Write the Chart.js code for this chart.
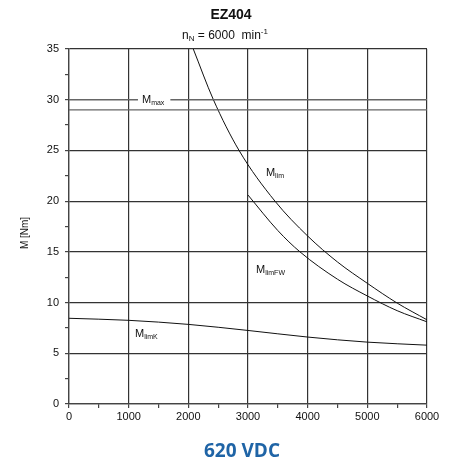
<!DOCTYPE html>
<html><head><meta charset="utf-8">
<script src="https://cdn.jsdelivr.net/npm/chart.js@4.4.1/dist/chart.umd.min.js"></script>
<style>html,body{margin:0;padding:0;background:#fff}#wrap{width:458px;height:466px;position:relative}</style>
</head><body><div id="wrap"><canvas id="c"></canvas></div>
<script>
const speedMlim = [2083, 2420, 2850, 3452, 4000, 4500, 5000, 5500, 6000];
const torqueMlim = [35, 30, 25, 20, 16.56, 14.0, 11.9, 9.95, 8.3];
const speedMlimFW = [3000, 3500, 3871, 4500, 5000, 5500, 6000];
const torqueMlimFW = [20.6, 17.1, 15, 12.3, 10.65, 9.2, 8.1];
const speedMlimK = [0, 1000, 2000, 3000, 4000, 5000, 6000];
const torqueMlimK = [8.45, 8.25, 7.85, 7.25, 6.6, 6.1, 5.8];
const speedMmax = [0, 6000];
const torqueMmax = [30, 30];
const speedM0 = [0, 6000];
const torqueM0 = [29, 29];
const xTicks = [0, 1000, 2000, 3000, 4000, 5000, 6000];
const yTicks = [0, 5, 10, 15, 20, 25, 30, 35];
const curveLabels = [
  {main: 'M', sub: 'max', x: 1223, y: 30, bg: true},
  {main: 'M', sub: 'lim', x: 3300, y: 22.8},
  {main: 'M', sub: 'limFW', x: 3134, y: 13.2},
  {main: 'M', sub: 'limK', x: 1106, y: 6.9}
];
const titleText = 'EZ404';
const voltageText = '620 VDC';
const yTitle = 'M [Nm]';

const pts = (xs, ys) => xs.map((x, i) => ({x: x, y: ys[i]}));
const FONT = '"Liberation Sans", Arial, sans-serif';

const textPlugin = {
  id: 'texts',
  afterDatasetsDraw(chart) {
    const ctx = chart.ctx, xs = chart.scales.x, ys = chart.scales.y;
    ctx.save();
    ctx.textBaseline = 'middle';
    curveLabels.forEach(l => {
      const px = xs.getPixelForValue(l.x), py = ys.getPixelForValue(l.y);
      ctx.font = '11px ' + FONT;
      const wm = ctx.measureText(l.main).width;
      ctx.font = '7px ' + FONT;
      const ws = ctx.measureText(l.sub).width;
      if (l.bg) {
        ctx.fillStyle = '#fff';
        ctx.fillRect(px - 4, py - 4, wm + ws + 10, 8);
      }
      ctx.fillStyle = '#111';
      ctx.textAlign = 'left';
      ctx.font = '11px ' + FONT;
      ctx.fillText(l.main, px, py);
      ctx.font = '7px ' + FONT;
      ctx.fillText(l.sub, px + wm, py + 3);
    });
    ctx.fillStyle = '#111';
    ctx.textAlign = 'center';
    ctx.font = 'bold 14px ' + FONT;
    ctx.fillText(titleText, 231, 15);
    ctx.textAlign = 'left';
    const parts = [['n', 12, 0], ['N', 8, 3], [' = 6000  min', 12, 0], ['-1', 8, -4]];
    let total = 0;
    parts.forEach(p => { ctx.font = p[1] + 'px ' + FONT; total += ctx.measureText(p[0]).width; });
    let cx = 225 - total / 2;
    parts.forEach(p => { ctx.font = p[1] + 'px ' + FONT; ctx.fillText(p[0], cx, 36 + p[2]); cx += ctx.measureText(p[0]).width; });
    ctx.save();
    ctx.translate(25, 233);
    ctx.rotate(-Math.PI / 2);
    ctx.textAlign = 'center';
    ctx.font = '10px ' + FONT;
    ctx.fillText(yTitle, 0, 0);
    ctx.restore();
    ctx.textAlign = 'center';
    ctx.fillStyle = '#1f64a6';
    ctx.font = 'bold 19px "Open Sans", ' + FONT;
    ctx.fillText(voltageText, 242, 452);
    ctx.restore();
  }
};

const lineDs = (data, color, width) => ({
  data: data, showLine: true, borderColor: color, borderWidth: width,
  pointRadius: 0, fill: false, cubicInterpolationMode: 'monotone'
});

new Chart(document.getElementById('c'), {
  type: 'scatter',
  data: {
    datasets: [
      lineDs(pts(speedMmax, torqueMmax), '#666', 1.3),
      lineDs(pts(speedM0, torqueM0), '#666', 1.3),
      lineDs(pts(speedMlim, torqueMlim), '#111', 1),
      lineDs(pts(speedMlimFW, torqueMlimFW), '#111', 1),
      lineDs(pts(speedMlimK, torqueMlimK), '#111', 1)
    ]
  },
  options: {
    responsive: true, maintainAspectRatio: false, animation: false,
    devicePixelRatio: 1,
    layout: {padding: {left: 0, top: 49, right: 31, bottom: 0}},
    plugins: {legend: {display: false}, tooltip: {enabled: false}, title: {display: false}},
    scales: {
      x: {
        type: 'linear', min: 0, max: 6000,
        afterFit: s => { s.height = 62; },
        border: {display: true, color: '#444', width: 1.3},
        grid: {
          color: c => (c.tick && c.tick.value % 1000 === 0) ? '#333' : 'rgba(0,0,0,0)',
          tickColor: '#444', tickLength: 4, lineWidth: 1.2, drawTicks: true
        },
        ticks: {
          stepSize: 500, autoSkip: false, maxRotation: 0, padding: 2,
          color: '#111', font: {family: FONT, size: 11},
          callback: v => xTicks.includes(v) ? String(v) : ''
        }
      },
      y: {
        type: 'linear', min: 0, max: 35,
        afterFit: s => { s.width = 69; },
        border: {display: true, color: '#444', width: 1.3},
        grid: {
          color: c => (c.tick && c.tick.value % 5 === 0) ? '#333' : 'rgba(0,0,0,0)',
          tickColor: '#444', tickLength: 4, lineWidth: 1.2
        },
        ticks: {
          stepSize: 2.5, autoSkip: false, padding: 6,
          color: '#111', font: {family: FONT, size: 11},
          callback: v => yTicks.includes(v) ? String(v) : ''
        }
      }
    }
  },
  plugins: [textPlugin]
});
</script></body></html>
